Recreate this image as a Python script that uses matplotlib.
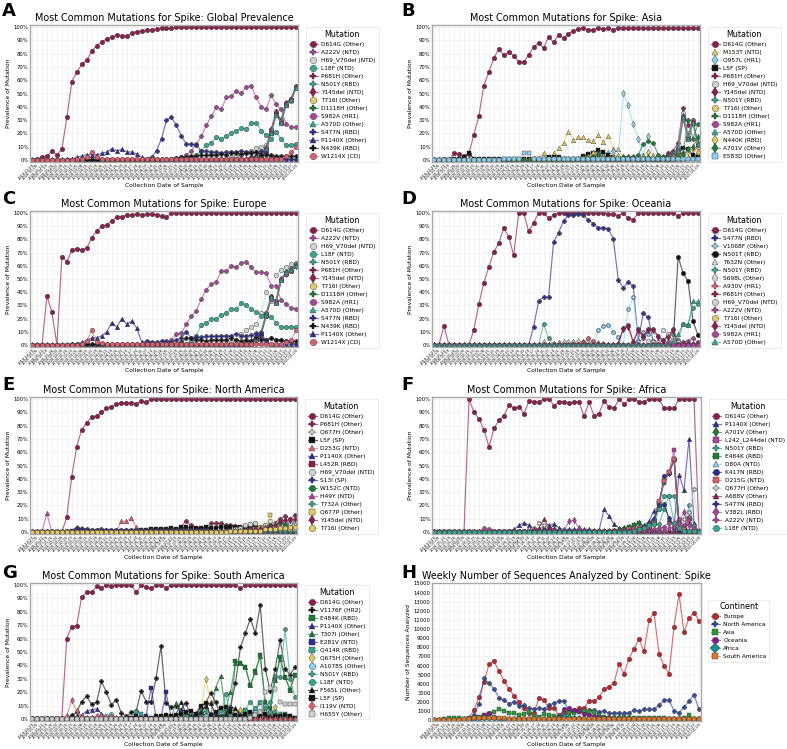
import matplotlib
matplotlib.use("Agg")
import matplotlib.pyplot as plt
import matplotlib.colors as mcolors
import pandas as pd

N = 54
WEEKS = list(pd.date_range("2019-12-29", periods=N, freq="7D").strftime("%Y-%m-%d"))

# ---------------- Panel A : Global ----------------
A_D614G = [0, 0.5, 2, 3, 6.5, 4, 8, 32, 59, 66, 72, 75, 82, 86, 89, 91, 92.5, 94, 93, 93, 95.5, 96.5, 97, 97.5, 98, 98.5, 99, 99, 99] + [100] * 25
A_A222V = [0] * 28 + [1, 1.5, 2, 4, 7, 12, 18, 26, 33, 39.5, 38, 47, 48, 52, 50, 55, 56, 47, 40, 38, 48.5, 42, 38, 27, 25, 24.5]
A_H69 = [0] * 38 + [1, 1, 2, 3, 4, 5, 7, 9, 10, 11, 22, 37, 30, 43, 46, 56]
A_L18F = [0] * 31 + [1, 2, 4, 7, 11, 13, 17, 16, 18, 20, 22, 24, 23, 28, 28, 22, 19, 16, 21, 16, 11, 11, 12]
A_P681H = [0] * 40 + [1, 1, 1, 1, 2, 3, 5, 9, 23, 35, 29, 43, 46, 55]
A_N501Y = [0] * 44 + [1, 2, 4, 8, 21, 35, 29, 42, 45, 55]
A_Y145del = [0] * 42 + [1, 1, 2, 3, 5, 9, 22, 36, 30, 43, 46, 55]
A_T716I = [0] * 44 + [1, 1, 3, 7, 20, 34, 28, 41, 44, 54]
A_D1118H = [0] * 44 + [1, 2, 3, 7, 20, 34, 28, 41, 45, 54]
A_S982A = [0] * 44 + [1, 1, 3, 7, 20, 34, 28, 42, 45, 54]
A_A570D = [0] * 44 + [1, 2, 4, 8, 20, 34, 28, 41, 45, 54]
A_S477N = [0] * 23 + [1, 2, 7, 16, 30, 32, 26, 18, 12, 12, 11, 7, 6.5, 6, 6, 5.5, 6, 6, 6, 7, 6, 6, 6, 7, 5, 2, 2, 1, 1, 0.5, 0.5]
A_P1140X = [0] * 7 + [0.5, 1, 2, 3, 4, 4, 4, 5, 6, 8.5, 7, 8, 6, 6, 4.5, 2, 1, 1.5] + [1] * 22 + [0.5] * 4 + [0] * 3
A_N439K = [0] * 26 + [0.5, 1, 1, 1.5, 2, 2.5, 3, 3, 3.5, 3.5, 4, 4, 4.5, 4, 5, 5, 4.5, 5, 5, 6, 4, 3.5, 4, 3, 3, 3, 3, 3]
A_W1214X = [0] * 9 + [0.5, 1, 2, 6, 2, 1, 1, 1] + [1] * 34 + [3, 6, 10]

# ---------------- Panel B : Asia ----------------
B_D614G = [0, 0, 1, 0, 5, 4.5, 3, 4.5, 19, 33, 56, 66, 76.5, 83.5, 79, 81, 78.5, 74, 73.5, 79, 85, 88, 84, 92.5, 88.5, 94, 91.5, 95, 97, 98.5, 99, 98, 98, 99, 98.5, 99, 98] + [99.5] * 17
B_M153T = [0] * 20 + [1, 1, 5, 1, 5, 9, 13, 21, 15, 17, 17, 15, 14.5, 18.5, 13.5, 18, 8.5, 8.5, 2, 1, 1, 1, 0.5, 0.5, 0.5, 0.5, 0.5, 0.5, 0.5, 0.5, 1, 2, 3, 6]
B_Q957L = [0] * 34 + [1, 5, 7, 2, 50, 41, 27, 16, 3, 18, 2, 0.5, 0.5] + [0] * 7
B_L5F = [0] * 4 + [1, 1, 2, 5, 1, 0.5] + [0.5] * 9 + [1, 1, 1, 1, 2, 2, 2, 1, 1, 1, 1, 3, 4.5, 5.5, 7.5, 6, 4, 2, 1, 1, 0.5, 0.5, 0.5, 0.5, 0.5, 0.5, 1, 1, 2, 3, 4, 9, 8, 4, 2]
B_P681H = [0] * 44 + [0.5, 1, 2, 5, 7, 13, 39, 26, 28, 12]
B_H69 = [0] * 44 + [0.5, 1, 1, 3, 5, 10, 35, 20, 30, 13]
B_Y145del = [0] * 44 + [0.5, 1, 1, 3, 5, 9, 33, 18, 29, 12]
B_N501Y = [0] * 44 + [0.5, 1, 1, 3, 5, 8, 32, 17, 28, 11]
B_T716I = [0] * 44 + [0, 0.5, 1, 2, 3, 5, 30, 16, 27, 10]
B_D1118H = [0] * 28 + [1, 1, 2, 2, 3, 5, 3, 1, 1, 1, 2, 2, 2, 4, 12, 14, 13, 4, 2, 1, 2, 3, 5, 30, 16, 27]
B_S982A = [0] * 44 + [0, 0.5, 1, 2, 4, 7, 31, 16, 28, 11]
B_A570D = [0] * 44 + [0.5, 1, 1, 2, 4, 7, 32, 16, 28, 12]
B_N440K = [0] * 20 + [0.5] * 10 + [1, 2, 5, 4, 2, 1, 2, 3, 1, 1, 0.5, 1, 2, 6, 3, 1, 0.5, 1, 2, 3, 4, 6, 8, 6]
B_A701V = [0] * 30 + [1, 1, 2, 4, 1, 1, 1, 1, 2, 2, 2, 1, 1, 2, 1, 1, 2, 1, 1, 2, 4, 8, 10, 17]
B_E583D = [0] * 14 + [0.5, 0.5, 1, 1, 5, 5, 1, 1] + [0.5] * 32

# ---------------- Panel C : Europe ----------------
C_D614G = [0, 0, 0, 37, 25, 0, 67, 63, 72, 73, 72, 73.5, 81, 86.5, 90, 91, 94, 97, 97, 98.5, 98.5, 99, 98.5, 99, 99.5, 98.5, 97.5, 97] + [100] * 26
C_A222V = [0] * 26 + [0.5, 1, 4, 8, 9, 16, 22, 26, 35, 42, 46, 48, 56, 56, 60, 59, 62, 63, 59, 55, 55, 54.5, 45, 45, 34, 31, 28, 27.5]
C_H69 = [0] * 38 + [1, 1, 2, 4, 8, 11, 14, 16, 24, 40, 33, 53, 57, 59, 61, 62]
C_L18F = [0] * 31 + [1, 3, 7, 15.5, 17, 19.5, 20, 23, 24, 27.5, 27, 32, 30.5, 27, 25, 22, 24, 21, 17, 13.5, 13.5, 13.5, 13.5]
C_N501Y = [0] * 42 + [1, 2, 3, 5, 10, 24, 37, 33, 50, 55, 58, 61]
C_P681H = [0] * 42 + [1, 2, 3, 5, 9, 23, 36, 33, 50, 55, 57, 60]
C_Y145del = [0] * 42 + [1, 2, 3, 5, 9, 23, 36, 33, 50, 54, 57, 60]
C_T716I = [0] * 42 + [0.5, 1, 2, 4, 8, 22, 35, 32, 49, 54, 56, 60]
C_D1118H = [0] * 42 + [0.5, 1, 2, 4, 8, 22, 35, 32, 49, 54, 56, 60]
C_S982A = [0] * 42 + [0.5, 1, 2, 4, 8, 22, 35, 32, 49, 54, 56, 60]
C_A570D = [0] * 42 + [1, 2, 3, 5, 9, 23, 36, 32, 49, 55, 57, 60]
C_S477N = [0] * 22 + [1, 3, 2.5, 2, 3, 3, 2, 4, 5.5, 10, 5, 6, 6, 6.5, 6.5, 6.5, 7, 7, 7, 8.5, 7, 7, 7.5, 9, 5, 4, 5, 4, 4, 3, 2, 1]
C_N439K = [0] * 8 + [0.5] * 20 + [1, 1, 2, 5, 5, 4, 4, 3, 4, 4, 4, 4, 5, 4, 3, 4, 3, 6, 4, 4, 5, 4, 4, 3, 3, 3]
C_P1140X = [0] * 9 + [1, 2, 3.5, 5.5, 5.5, 7, 10, 17, 13.5, 20, 16, 18, 13, 2.5, 2, 1.5] + [1] * 20 + [8, 9, 3, 1, 0.5, 0.5, 0.5, 0.5, 0]
C_W1214X = [0] * 10 + [1, 3, 11, 2, 1.5] + [1] * 36 + [2, 4, 11]

# ---------------- Panel D : Oceania ----------------
D_D614G = [0, 0, 14.5, 0, 0, 0, 0, 0, 11.5, 31, 47, 59, 70.5, 77, 88.5, 82, 68, 100, 100, 86, 92.5, 100, 100, 96, 98.5] + [100] * 10 + [99, 99, 98, 100, 96, 95] + [100] * 8 + [98] + [100] * 4
D_S477N = [0] * 20 + [14, 33, 36.5, 36, 78, 85, 94, 98.5, 98.5, 99, 98.5, 94.5, 92, 88.5, 89, 88, 80.5, 49, 43.5, 47.5, 44.5, 3, 24, 21, 3] + [0] * 9
D_V1068F = [0] * 33 + [11, 14.5, 15.5, 10, 6, 0, 27.5, 36, 3, 10, 8, 3] + [0] * 9
D_N501T = [0] * 49 + [67, 54.5, 48.5, 18, 7.5]
D_T632N = [0] * 22 + [3, 0, 1, 2, 2, 2.5, 3, 2.5, 3, 3, 2, 2, 1.5, 1] + [0] * 18
D_N501Y = [0] * 22 + [16, 5, 1] + [0] * 23 + [8, 4, 16, 15.5, 28, 31]
D_S698L = [0] * 24 + [1, 1.5, 2, 2, 2, 3, 2, 2, 1, 1] + [0] * 20
D_A930V = [0] * 28 + [1, 1, 2, 5, 3, 1, 0.5] + [0] * 19
D_P681H = [0] * 37 + [1, 13, 15, 2, 12, 7, 12, 12, 7, 4, 7, 12, 0, 0, 0, 0, 0]
D_H69 = [0] * 42 + [5, 3, 2, 2, 11.5, 8, 4, 2, 1, 1, 1, 1]
D_A222V = [0] * 44 + [1, 1, 1, 2, 1, 1, 2, 3, 5, 2]
D_T716I = [0] * 54
D_Y145del = [0] * 37 + [1, 12, 14, 2, 11, 6, 11, 11, 6, 3, 6, 11, 0, 1, 1, 1, 1]
D_S982A = [0] * 54
D_A570D = [0] * 48 + [3, 8, 16, 15, 33, 33]

# ---------------- Panel E : North America ----------------
E_D614G = [0] * 7 + [11, 41.5, 64, 77, 82, 86.5, 87, 90, 93, 94, 96, 97, 97, 97, 96.5, 98.5, 97.5] + [100] * 30
E_P681H = [0] * 7 + [0.5] * 10 + [1, 1, 1, 1, 1, 1, 1.5, 2, 2, 2, 2, 1.5, 2, 3, 8.5, 5, 3, 3, 3, 6.5, 6.5, 6.5, 5, 5.5, 4.5, 4, 4, 4, 5, 4, 5, 3, 7, 10, 12, 10, 13]
E_Q677H = [0] * 30 + [0.5] * 10 + [1, 1, 2, 3, 6, 7, 3, 3, 8, 5, 8, 7, 6, 7]
E_L5F = [0] * 8 + [0.5] * 12 + [1, 1, 1.5, 1.5, 2, 2.5, 2, 2.5, 3, 2.5, 3.5, 3.5, 3, 3, 3, 3.5, 3, 3, 4, 3.5, 4, 4, 4, 3.5, 3, 4, 3, 3, 3, 2.5, 2.5, 2.5, 2, 2]
E_D253G = [0] * 17 + [1, 8, 8, 10.5, 3.5, 1, 1, 1, 0.5, 0.5] + [0.5] * 27
E_P1140X = [0] * 8 + [1, 3.5, 3, 2, 1.5, 1.5, 1.5, 1.5] + [1] * 30 + [0.5] * 8
E_L452R = [0] * 44 + [0.5, 1, 1, 1, 2, 1, 1, 1, 1, 1]
E_H69 = [0] * 38 + [0.5, 1, 1, 2, 3, 5, 6, 7, 4, 5, 8, 6, 8, 8, 7, 8]
E_S13I = [0] * 8 + [1, 3, 2.5, 2, 1.5, 1.5, 2, 1.5] + [1.5] * 20 + [1] * 18
E_W152C = [0] * 40 + [0.5, 1, 1, 1, 2, 2, 2, 3, 5, 4, 7, 5, 3, 2]
E_H49Y = [0, 0, 0, 14, 0] + [0] * 5 + [0.5] * 44
E_T732A = [0] * 40 + [0.5] * 10 + [1, 1, 1, 1]
E_Q677P = [0] * 44 + [1, 2, 3, 3, 12.5, 4, 3, 2, 2, 2]
E_Y145del = [0] * 40 + [0.5, 1, 1, 1, 2, 2, 2, 3, 4, 5, 8, 9, 9, 10]
E_T716I = [0] * 40 + [0.5, 1, 1, 1, 1, 1, 1, 2, 2, 2, 3, 3, 4, 4]

# ---------------- Panel F : Africa ----------------
F_D614G = [0] * 7 + [100, 90, 85, 77, 64, 78, 84, 87.5, 95.5, 93, 94, 89, 98.5, 98, 98, 100, 100, 95, 98, 98, 97, 98, 98, 87, 97.5, 87.5, 89, 98.5, 94, 93, 100, 96, 100, 100, 98, 98, 100, 100, 100, 93, 93, 93, 100, 100, 100, 100, 0]
F_P1140X = [0] * 15 + [1, 2, 5, 7, 5, 2, 2, 4, 5, 6, 3, 2, 2, 2, 2, 2, 2, 1, 1, 17, 12, 6, 3, 2, 1, 2, 3, 5, 8, 16, 20, 21, 10, 4, 43, 31.5, 70, 7, 0]
F_A701V = [0] * 36 + [1, 2, 3, 4, 5, 7, 4, 6, 10, 20, 40, 44, 54, 5, 2, 6, 1, 0]
F_L242 = [0] * 42 + [1, 3, 8, 22, 38, 45, 62, 7, 3, 1, 0.5, 0]
F_N501Y = [0] * 31 + [1] * 10 + [1, 2, 3, 6, 6, 17, 27, 27, 7, 3, 20, 5, 0]
F_E484K = [0] * 36 + [1, 1, 2, 4, 5, 7, 4, 5, 8, 22, 37, 44, 55, 7, 3, 10, 1, 0]
F_D80A = [0] * 40 + [0.5] * 14
F_K417N = [0] * 36 + [0.5, 1, 1, 2, 2, 3, 3, 4, 8, 20, 42, 44, 55, 7, 2, 10, 1, 0]
F_D215G = [0] * 36 + [0.5, 1, 1, 2, 2, 3, 3, 4, 8, 23, 38, 45, 55, 6, 2, 10, 1, 0]
F_Q677H = [0] * 18 + [1, 2, 3, 7, 5, 3, 2, 1] + [1] * 22 + [1, 2, 10, 15, 32, 0]
F_A688V = [0] * 19 + [1, 2, 3, 9.5, 4, 2, 1, 1] + [0.5] * 27
F_S477N = [0] * 20 + [0.5] * 20 + [1, 2, 4, 6, 10, 20, 21, 10.5, 4, 0, 0, 0, 0, 0]
F_V382L = [0] * 26 + [1, 8, 9, 3, 1] + [0.5] * 15 + [1, 3, 4, 7, 15, 5, 2, 1]
F_A222V = [0] * 10 + [3, 2, 1] + [0.5] * 30 + [1, 2, 3, 4, 7, 7, 10, 5, 11.5, 1, 0]
F_L18F = [0] * 40 + [1, 2, 3, 5, 6, 17, 27, 27, 7, 3, 1, 1, 0.5, 0]

# ---------------- Panel G : South America ----------------
G_D614G = [0] * 7 + [60, 69, 69.5, 91, 94.5, 94.5, 99, 97.5, 100, 99.5, 100, 100, 100, 100, 94.5, 100, 98.5, 97.5, 100, 100, 98] + [100] * 14 + [97.5] + [100] * 11
G_V1176F = [0] * 8 + [3, 5, 13, 17, 11, 12.5, 28, 20, 10.5, 14.5, 4.5, 2, 5, 6, 21, 13, 13, 30.5, 54.5, 12, 9, 10, 7, 12, 2, 3, 8.5, 12, 19.5, 12.5, 3, 7.5, 9, 27, 53.5, 64, 75, 64, 85, 37.5, 21, 37, 59, 37.5, 33, 39]
G_E484K = [0] * 38 + [1, 2, 4, 43, 42, 39, 25, 36, 47.5, 12.5, 8, 30, 46, 31, 22, 33]
G_P1140X = [0] * 9 + [2, 3, 6, 7, 7.5, 4, 2, 1, 0.5] + [0] * 36
G_T307I = [0] * 29 + [12, 3, 2, 1, 2, 2, 3, 2, 23.5, 32, 7, 20, 42, 42, 38.5, 25, 35, 47, 12, 7, 29, 45, 31, 22, 33]
G_E281V = [0] * 22 + [1, 2, 23.5, 1, 1, 20, 2, 1, 5.5, 1] + [0] * 22
G_Q414R = [0] * 20 + [1, 5, 4] + [0] * 8 + [1, 2, 3, 3, 2, 2, 4, 5, 8, 3, 5, 5, 7, 4, 6, 12, 8, 3, 5, 4, 4, 2, 1]
G_Q675H = [0] * 30 + [1, 2, 3, 4, 5, 30, 12, 4, 3, 2, 3, 5, 7, 4, 2, 3, 4, 5, 3, 9, 2, 1, 0, 0]
G_A1078S = [0] * 14 + [1, 2, 4, 1] + [0] * 16 + [1, 2, 3, 5, 4, 3, 2, 3, 4, 3, 2, 5, 6, 10, 5, 3, 2, 2, 1, 1]
G_N501Y = [0] * 43 + [1, 2, 3, 5, 8, 13, 32, 31.5, 67, 30, 16.5]
G_L18F = [0] * 30 + [1, 2, 3, 4, 5, 6, 4, 3, 2, 19, 3, 2, 1, 7, 12.5, 8, 13, 3, 5, 3, 2, 1, 0, 0]
G_F565L = [0] * 28 + [1, 3, 12.5, 5, 2, 3, 5, 10, 12, 3, 2, 4, 8, 8, 3, 2, 1, 1, 2, 3, 2, 1, 0, 0, 0, 0]
G_L5F = [0] * 20 + [1, 2, 1, 0.5] + [1, 2, 2, 3, 2, 3, 4, 5, 6, 4, 10, 12, 3, 5, 8, 9, 5, 3, 2, 4, 5, 3, 2, 4, 1, 2, 2, 3, 2, 1]
G_I119V = [0] * 7 + [2, 14, 6, 2, 1, 1, 2, 2, 1, 2, 1] + [0] * 36
G_H655Y = [0] * 44 + [1, 3, 5, 20, 23, 22.5, 12.5, 11, 11, 11]

# ---------------- Panel H : weekly counts ----------------
H_Europe = [20, 30, 40, 50, 60, 80, 100, 300, 1100, 2600, 4200, 6150, 6450, 5400, 4350, 3450, 2700, 2000, 1300, 800, 800, 2450, 2200, 1350, 1350, 550, 900, 1000, 1100, 1300, 1350, 2100, 2100, 2500, 3450, 3700, 4100, 6150, 5100, 6750, 7850, 8900, 7550, 10950, 11800, 7250, 6000, 5100, 10250, 13850, 9650, 11200, 11800, 10900]
H_NorthAmerica = [0, 0, 0, 0, 10, 20, 50, 200, 600, 1800, 4600, 4050, 3450, 2450, 2250, 1800, 2050, 1550, 1650, 1300, 1250, 1300, 1250, 1700, 1850, 2150, 2100, 1000, 1000, 1000, 900, 1100, 1100, 950, 1050, 750, 800, 800, 750, 850, 1100, 1000, 1200, 1200, 1200, 1650, 2200, 2200, 1050, 800, 1450, 2100, 2800, 1200]
H_Asia = [50, 80, 100, 200, 250, 200, 150, 200, 300, 400, 600, 700, 900, 1250, 1050, 800, 750, 550, 700, 950, 500, 400, 650, 550, 500, 400, 600, 750, 800, 900, 1000, 950, 900, 600, 400, 300, 250, 300, 400, 300, 250, 250, 200, 250, 250, 200, 200, 150, 150, 150, 200, 550, 150, 100]
H_Oceania = [0] * 8 + [100, 300, 600, 850, 400, 150, 100] + [100] * 10 + [400, 1200, 1300, 1100, 1000, 700, 600, 500, 400, 300, 200] + [100] * 18
H_Africa = [0] * 5 + [50, 100, 100, 150, 200, 250, 300, 200] + [150] * 12 + [300, 500, 400, 300, 200, 150] + [100] * 23
H_SouthAmerica = [0] * 5 + [50, 100, 150, 200, 250, 300, 250, 200, 200, 200, 150] + [150] * 38

# ---------------- styles ----------------
MAROON, MAGENTA, GREY, TEAL = "#8b1e4e", "#a9449b", "#d2d2d2", "#3aa58f"
KHAKI, GREEN, NAVY, BLACK = "#e2c96a", "#1e7b34", "#2e2a8f", "#111111"
CORAL, LBLUE = "#d9606e", "#8fd0ee"
STYLE = {
    "D614G": (MAROON, "o"), "A222V": (MAGENTA, "P"), "H69_V70del": (GREY, "o"),
    "L18F": (TEAL, "o"), "P681H": (MAROON, "P"), "N501Y": (TEAL, "P"),
    "Y145del": (MAROON, "d"), "T716I": (KHAKI, "o"), "D1118H": (GREEN, "P"),
    "S982A": (MAGENTA, "o"), "A570D": (TEAL, "^"), "S477N": (NAVY, "P"),
    "P1140X": (NAVY, "^"), "N439K": (BLACK, "P"), "W1214X": (CORAL, "o"),
    "M153T": (KHAKI, "^"), "Q957L": (LBLUE, "d"), "L5F": (BLACK, "s"),
    "N440K": (KHAKI, "d"), "A701V": (GREEN, "d"), "E583D": (LBLUE, "s"),
    "V1068F": (LBLUE, "P"), "N501T": (BLACK, "o"), "T632N": (GREY, "^"),
    "S698L": (GREY, "d"), "A930V": (CORAL, "P"), "Q677H": (GREY, "P"),
    "D253G": (CORAL, "^"), "L452R": (MAROON, "s"), "S13I": (NAVY, "P"),
    "W152C": (GREEN, "o"), "H49Y": (MAGENTA, "^"), "T732A": (TEAL, "P"),
    "Q677P": (KHAKI, "s"), "L242_L244del": (MAGENTA, "s"), "E484K": (GREEN, "s"),
    "D80A": (LBLUE, "^"), "K417N": (NAVY, "o"), "D215G": (CORAL, "s"),
    "A688V": (MAROON, "^"), "V382L": (MAGENTA, "d"), "V1176F": (BLACK, "P"),
    "T307I": (GREEN, "^"), "E281V": (NAVY, "s"), "Q414R": (TEAL, "s"),
    "Q675H": (KHAKI, "d"), "A1078S": (LBLUE, "o"), "F565L": (BLACK, "^"),
    "I119V": (CORAL, "d"), "H655Y": (GREY, "s"),
    "Europe": ("#c0272d", "o"), "North America": ("#2b46a6", "P"),
    "Asia": ("#2e9a3a", "s"), "Oceania": ("#7d1f8c", "o"),
    "Africa": ("#1b8f8f", "D"), "South America": ("#e07a2a", "s"),
}

PANELS = [
    ("A", "Most Common Mutations for Spike: Global Prevalence", [
        ("D614G (Other)", A_D614G), ("A222V (NTD)", A_A222V), ("H69_V70del (NTD)", A_H69),
        ("L18F (NTD)", A_L18F), ("P681H (Other)", A_P681H), ("N501Y (RBD)", A_N501Y),
        ("Y145del (NTD)", A_Y145del), ("T716I (Other)", A_T716I), ("D1118H (Other)", A_D1118H),
        ("S982A (HR1)", A_S982A), ("A570D (Other)", A_A570D), ("S477N (RBD)", A_S477N),
        ("P1140X (Other)", A_P1140X), ("N439K (RBD)", A_N439K), ("W1214X (CD)", A_W1214X)]),
    ("B", "Most Common Mutations for Spike: Asia", [
        ("D614G (Other)", B_D614G), ("M153T (NTD)", B_M153T), ("Q957L (HR1)", B_Q957L),
        ("L5F (SP)", B_L5F), ("P681H (Other)", B_P681H), ("H69_V70del (NTD)", B_H69),
        ("Y145del (NTD)", B_Y145del), ("N501Y (RBD)", B_N501Y), ("T716I (Other)", B_T716I),
        ("D1118H (Other)", B_D1118H), ("S982A (HR1)", B_S982A), ("A570D (Other)", B_A570D),
        ("N440K (RBD)", B_N440K), ("A701V (Other)", B_A701V), ("E583D (Other)", B_E583D)]),
    ("C", "Most Common Mutations for Spike: Europe", [
        ("D614G (Other)", C_D614G), ("A222V (NTD)", C_A222V), ("H69_V70del (NTD)", C_H69),
        ("L18F (NTD)", C_L18F), ("N501Y (RBD)", C_N501Y), ("P681H (Other)", C_P681H),
        ("Y145del (NTD)", C_Y145del), ("T716I (Other)", C_T716I), ("D1118H (Other)", C_D1118H),
        ("S982A (HR1)", C_S982A), ("A570D (Other)", C_A570D), ("S477N (RBD)", C_S477N),
        ("N439K (RBD)", C_N439K), ("P1140X (Other)", C_P1140X), ("W1214X (CD)", C_W1214X)]),
    ("D", "Most Common Mutations for Spike: Oceania", [
        ("D614G (Other)", D_D614G), ("S477N (RBD)", D_S477N), ("V1068F (Other)", D_V1068F),
        ("N501T (RBD)", D_N501T), ("T632N (Other)", D_T632N), ("N501Y (RBD)", D_N501Y),
        ("S698L (Other)", D_S698L), ("A930V (HR1)", D_A930V), ("P681H (Other)", D_P681H),
        ("H69_V70del (NTD)", D_H69), ("A222V (NTD)", D_A222V), ("T716I (Other)", D_T716I),
        ("Y145del (NTD)", D_Y145del), ("S982A (HR1)", D_S982A), ("A570D (Other)", D_A570D)]),
    ("E", "Most Common Mutations for Spike: North America", [
        ("D614G (Other)", E_D614G), ("P681H (Other)", E_P681H), ("Q677H (Other)", E_Q677H),
        ("L5F (SP)", E_L5F), ("D253G (NTD)", E_D253G), ("P1140X (Other)", E_P1140X),
        ("L452R (RBD)", E_L452R), ("H69_V70del (NTD)", E_H69), ("S13I (SP)", E_S13I),
        ("W152C (NTD)", E_W152C), ("H49Y (NTD)", E_H49Y), ("T732A (Other)", E_T732A),
        ("Q677P (Other)", E_Q677P), ("Y145del (NTD)", E_Y145del), ("T716I (Other)", E_T716I)]),
    ("F", "Most Common Mutations for Spike: Africa", [
        ("D614G (Other)", F_D614G), ("P1140X (Other)", F_P1140X), ("A701V (Other)", F_A701V),
        ("L242_L244del (NTD)", F_L242), ("N501Y (RBD)", F_N501Y), ("E484K (RBD)", F_E484K),
        ("D80A (NTD)", F_D80A), ("K417N (RBD)", F_K417N), ("D215G (NTD)", F_D215G),
        ("Q677H (Other)", F_Q677H), ("A688V (Other)", F_A688V), ("S477N (RBD)", F_S477N),
        ("V382L (RBD)", F_V382L), ("A222V (NTD)", F_A222V), ("L18F (NTD)", F_L18F)]),
    ("G", "Most Common Mutations for Spike: South America", [
        ("D614G (Other)", G_D614G), ("V1176F (HR2)", G_V1176F), ("E484K (RBD)", G_E484K),
        ("P1140X (Other)", G_P1140X), ("T307I (Other)", G_T307I), ("E281V (NTD)", G_E281V),
        ("Q414R (RBD)", G_Q414R), ("Q675H (Other)", G_Q675H), ("A1078S (Other)", G_A1078S),
        ("N501Y (RBD)", G_N501Y), ("L18F (NTD)", G_L18F), ("F565L (Other)", G_F565L),
        ("L5F (SP)", G_L5F), ("I119V (NTD)", G_I119V), ("H655Y (Other)", G_H655Y)]),
    ("H", "Weekly Number of Sequences Analyzed by Continent: Spike", [
        ("Europe", H_Europe), ("North America", H_NorthAmerica), ("Asia", H_Asia),
        ("Oceania", H_Oceania), ("Africa", H_Africa), ("South America", H_SouthAmerica)]),
]

# pixel boxes (left, top, right, bottom)
BOXES = {
    "A": (30, 25, 298, 162), "B": (432, 25, 700, 162),
    "C": (30, 211, 298, 347), "D": (432, 211, 700, 347),
    "E": (30, 397, 297, 534), "F": (432, 397, 701, 534),
    "G": (30, 583, 297, 721), "H": (432, 583, 701, 721),
}
W, H = 787, 749

fig = plt.figure(figsize=(W / 100, H / 100), dpi=100)
fig.patch.set_facecolor("white")

for letter, title, series in PANELS:
    l, t, r, b = BOXES[letter]
    ax = fig.add_axes([l / W, 1 - b / H, (r - l) / W, (b - t) / H])
    x = list(range(N))
    for label, vals in series:
        assert len(vals) == N, (letter, label, len(vals))
        key = label.split(" (")[0]
        col, mk = STYLE[key]
        rgb = mcolors.to_rgb(col)
        ax.plot(x, vals, color=(*rgb, 0.65), lw=0.85, marker=mk, ms=3.3,
                mfc=col, mec="#3a3a3a", mew=0.3, label=label)
    ax.set_xlim(-0.4, N - 0.6)
    ax.set_xticks(x)
    ax.set_xticklabels(WEEKS, rotation=45, ha="right", fontsize=2.6, rotation_mode="anchor")
    if letter == "H":
        ax.set_ylim(-80, 15050)
        ax.set_yticks(range(0, 15001, 1000))
        ax.set_yticklabels([str(v) for v in range(0, 15001, 1000)], fontsize=3.8)
        ax.set_ylabel("Number of Sequences Analyzed", fontsize=4.3, labelpad=2)
        leg_title, anchor = "Continent", (1.026, 0.88)
    else:
        ax.set_ylim(-1.5, 101.5)
        ax.set_yticks(range(0, 101, 10))
        ax.set_yticklabels([f"{v}%" for v in range(0, 101, 10)], fontsize=3.8)
        ax.set_ylabel("Prevalence of Mutation", fontsize=4.3, labelpad=2)
        leg_title, anchor = "Mutation", (1.03, 0.985)
    ax.set_xlabel("Collection Date of Sample", fontsize=4.3, labelpad=1)
    ax.tick_params(length=0, pad=1)
    ax.grid(True, color="#ebebeb", lw=0.4)
    ax.set_axisbelow(True)
    for sp in ax.spines.values():
        sp.set_color("#a8a8a8")
        sp.set_linewidth(1.0)
    ax.set_title(title, fontsize=6.9, pad=3)
    leg = ax.legend(loc="upper left", bbox_to_anchor=anchor, borderaxespad=0,
                    fontsize=4.2, title=leg_title, title_fontsize=5.8,
                    markerscale=1.4, handlelength=1.6, labelspacing=0.5,
                    frameon=True, fancybox=False, edgecolor="#dddddd",
                    borderpad=0.45, handletextpad=0.6)
    leg.get_frame().set_linewidth(0.5)
    lx = 2 if letter in "ACEG" else 401
    ly = {"A": 2, "B": 2, "C": 190, "D": 190, "E": 376, "F": 376, "G": 564, "H": 564}[letter]
    fig.text(lx / W, 1 - ly / H, letter, fontsize=13, fontweight="bold", va="top", ha="left")

fig.savefig("out.png", dpi=100)
